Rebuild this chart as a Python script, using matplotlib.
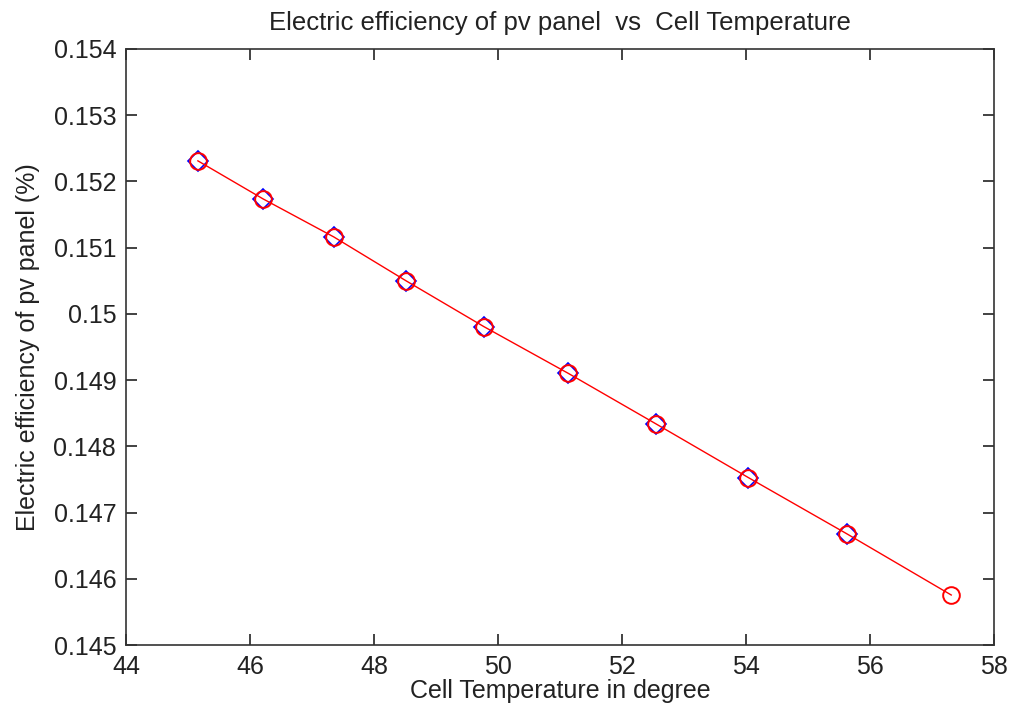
import matplotlib
matplotlib.use('Agg')
import matplotlib.pyplot as plt

# cell temperature (deg) and electric efficiency
cell_temp = [45.16, 46.21, 47.35, 48.52, 49.77, 51.13, 52.55, 54.04, 55.63, 57.31]
efficiency = [0.152311, 0.151737, 0.151163, 0.150498, 0.149809, 0.149104,
              0.148338, 0.147527, 0.146677, 0.145755]

plt.rcParams['font.family'] = ['Liberation Sans', 'DejaVu Sans']

fig = plt.figure(figsize=(10.11, 7.06), dpi=100)
ax = fig.add_axes([0.1246, 0.0864, 0.8586, 0.8442])

# blue diamonds under the red circles (last point has none)
ax.plot(cell_temp[:-1], efficiency[:-1], linestyle='none', marker='D',
        markersize=10, markerfacecolor='none', markeredgecolor='blue', markeredgewidth=1.2)
ax.plot(cell_temp, efficiency, color='red', linewidth=1.0, marker='o',
        markersize=12, markerfacecolor='none', markeredgecolor='red', markeredgewidth=1.4)

ax.set_xlim(44, 58)
ax.set_ylim(0.145, 0.154)
ax.set_xticks(range(44, 59, 2))
yt = [0.145 + 0.001 * i for i in range(10)]
ax.set_yticks(yt)
ax.set_yticklabels(['0.145', '0.146', '0.147', '0.148', '0.149', '0.15',
                    '0.151', '0.152', '0.153', '0.154'])

ax.tick_params(direction='in', length=8, width=1.2, top=True, right=True,
               labelsize=18, pad=7, colors='#222222')
for s in ax.spines.values():
    s.set_linewidth(1.2)
    s.set_color('#333333')

ax.set_title('Electric efficiency of pv panel  vs  Cell Temperature', fontsize=18.5, pad=14,
             color='#222222')
ax.set_xlabel('Cell Temperature in degree', fontsize=18, labelpad=0, color='#222222')
ax.set_ylabel('Electric efficiency of pv panel (%)', fontsize=18, labelpad=10, color='#222222')

fig.savefig('out.png', dpi=100)
